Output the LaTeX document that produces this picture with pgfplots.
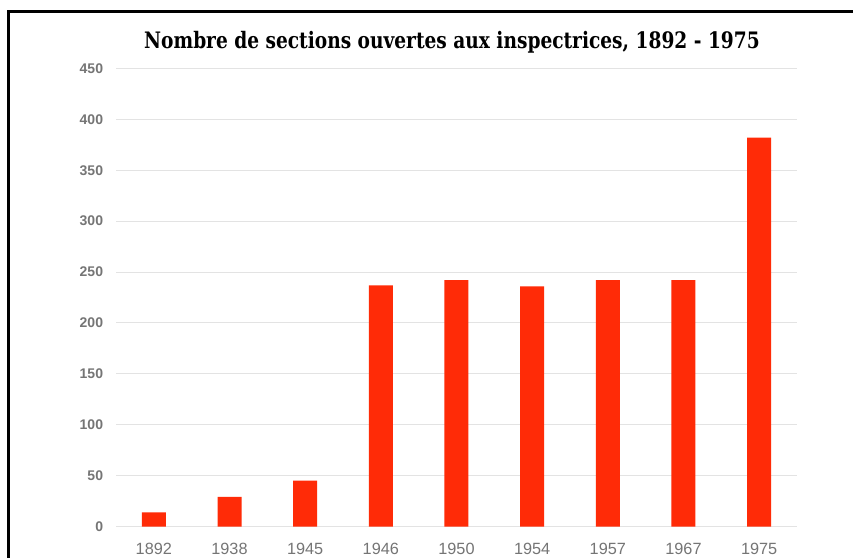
\documentclass[border=0pt]{standalone}
\usepackage{fontspec}
\setmainfont{Liberation Sans}
\newfontfamily\titlefont{DejaVu Serif}
\usepackage{pgfplots}
\pgfplotsset{compat=1.18}
\definecolor{barred}{HTML}{FF2B07}
\definecolor{tickgray}{HTML}{757575}
\definecolor{gridgray}{HTML}{E3E3E3}
\begin{document}
\begin{tikzpicture}[x=0.75pt,y=0.75pt]
\useasboundingbox (0,0) rectangle (853,557);
\clip (0,0) rectangle (853,557);
\fill[white] (0,0) rectangle (853,557);
\begin{axis}[
  at={(87pt,22.875pt)}, anchor=south west,
  scale only axis, width=510.75pt, height=343.5pt,
  xmin=-0.5, xmax=8.5, ymin=0, ymax=450,
  ytick={0,50,...,450},
  xtick={0,...,8},
  xticklabels={1892,1938,1945,1946,1950,1954,1957,1967,1975},
  axis line style={draw=none}, tick style={draw=none},
  ymajorgrids, grid style={gridgray, line width=0.8pt},
  ybar, bar width=18pt,
  /pgf/number format/assume math mode=true,
  yticklabel style={font=\bfseries\fontsize{10.5}{12}\selectfont, text=tickgray, anchor=east, inner sep=0pt, xshift=-9.5pt},
  xticklabel style={font=\fontsize{12.2}{14}\selectfont, text=tickgray, anchor=base, inner sep=0pt, yshift=-17pt},
  clip=false
]
\addplot[fill=barred, draw=none, bar shift=0pt] coordinates {(0,14) (1,29) (2,45) (3,237) (4,242) (5,236) (6,242) (7,242) (8,382)};
\end{axis}
\draw[line width=2.5pt, black] (8.3,-20) -- (8.3,545.3) -- (900,545.3);
\node[anchor=base, inner sep=0pt, font=\titlefont\bfseries\fontsize{17}{20}\selectfont, text=black] at (452,508.7) {\scalebox{0.82}[1]{Nombre de sections ouvertes aux inspectrices, 1892 - 1975}};
\end{tikzpicture}
\end{document}
